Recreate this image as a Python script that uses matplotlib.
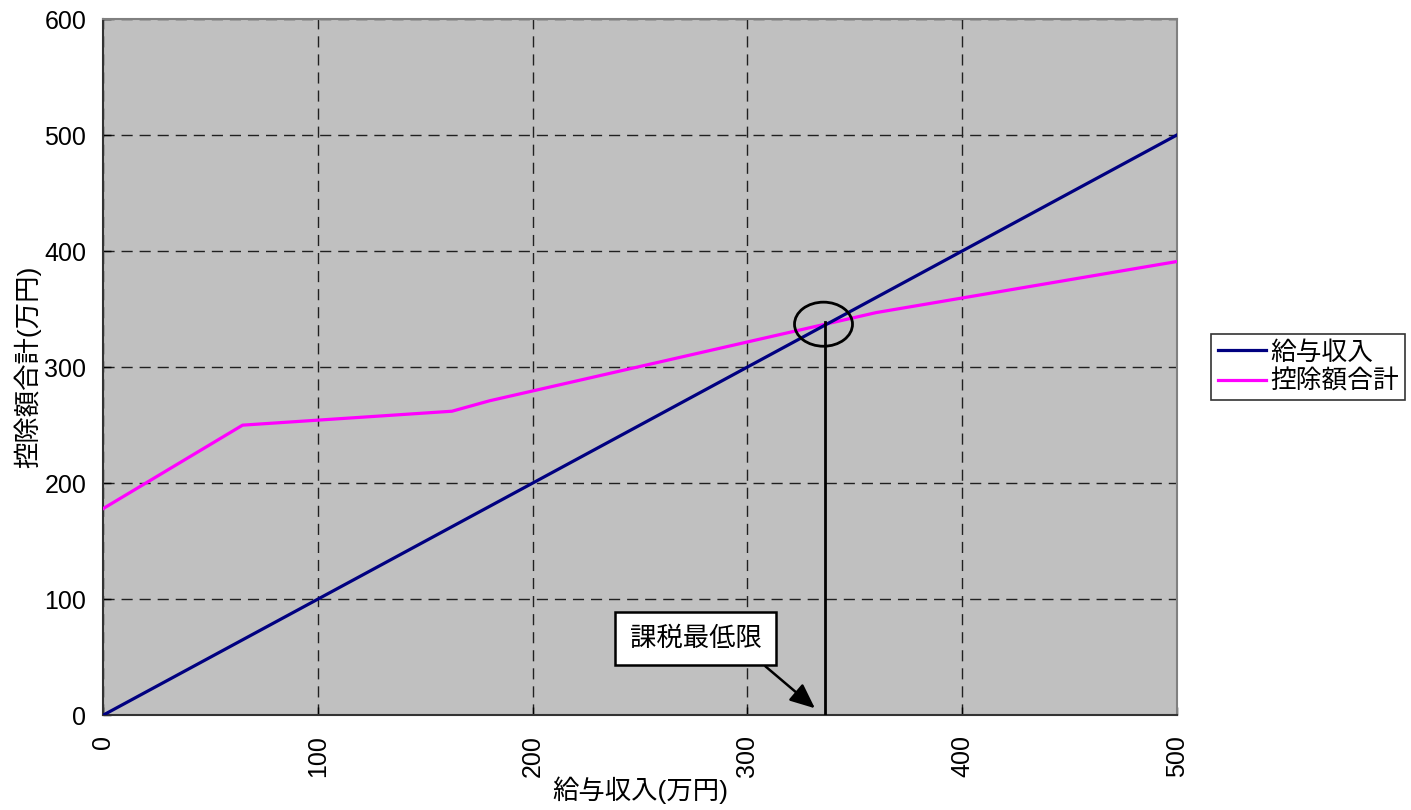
import matplotlib
matplotlib.use('Agg')
import matplotlib.pyplot as plt
from matplotlib.patches import Ellipse

plt.rcParams['font.family'] = ['Liberation Sans', 'Noto Sans CJK JP']

# ---- data (万円) ----
income = [0, 500]
income_y = [0, 500]
deduct_x = [0, 65, 162.5, 180, 360, 500]
deduct_y = [178, 250, 262, 271, 347, 391]
threshold = 336
threshold_y = 339
x_ticks = [0, 100, 200, 300, 400, 500]
y_ticks = [0, 100, 200, 300, 400, 500, 600]

fig = plt.figure(figsize=(14.11, 8.10), dpi=100)
ax = fig.add_axes([0.073, 0.117, 0.761, 0.8595])
ax.set_facecolor('#C0C0C0')

ax.plot(income, income_y, color='#000080', lw=2.3, label='給与収入', zorder=5)
ax.plot(deduct_x, deduct_y, color='#FF00FF', lw=2.3, label='控除額合計', zorder=4)

# threshold marker: vertical line + circle
ax.plot([threshold, threshold], [0, threshold_y], color='black', lw=2, zorder=6)
ax.add_patch(Ellipse((335.5, 337), 27, 38, fill=False, edgecolor='black', lw=2, zorder=7))

ax.annotate('課税最低限', xy=(331.5, 6), xytext=(276, 66),
            fontsize=19, ha='center', va='center',
            bbox=dict(boxstyle='square,pad=0.55', fc='white', ec='black', lw=1.8),
            arrowprops=dict(arrowstyle='-|>,head_length=0.8,head_width=0.35', color='black', lw=1.8,
                            shrinkA=0, shrinkB=0, relpos=(0.89, 0)), zorder=8)

ax.set_xlim(0, 500)
ax.set_ylim(0, 600)
ax.set_xticks(x_ticks)
ax.set_yticks(y_ticks)
ax.set_xticklabels([str(v) for v in x_ticks], rotation=90, fontsize=18)
ax.set_yticklabels([str(v) for v in y_ticks], fontsize=18)
ax.tick_params(direction='in', length=6, width=1)
ax.tick_params(axis='x', pad=14)
ax.tick_params(axis='y', pad=12)
ax.grid(True, color='#202020', ls=(0, (8, 5)), lw=1)
ax.set_axisbelow(True)

for side in ['top', 'right']:
    ax.spines[side].set_color('#808080')
    ax.spines[side].set_linewidth(1.5)
for side in ['left', 'bottom']:
    ax.spines[side].set_color('#333333')
    ax.spines[side].set_linewidth(1.5)

ax.set_xlabel('給与収入(万円)', fontsize=19, labelpad=0)
ax.set_ylabel('控除額合計(万円)', fontsize=19, labelpad=2)

leg = ax.legend(loc='center left', bbox_to_anchor=(1.032, 0.5), fontsize=18.5,
                frameon=True, fancybox=False, edgecolor='black', handlelength=1.9,
                handletextpad=0.15, borderpad=0.25, labelspacing=0.2, borderaxespad=0)
leg.get_frame().set_linewidth(1.2)

fig.savefig('out.png', dpi=100)
